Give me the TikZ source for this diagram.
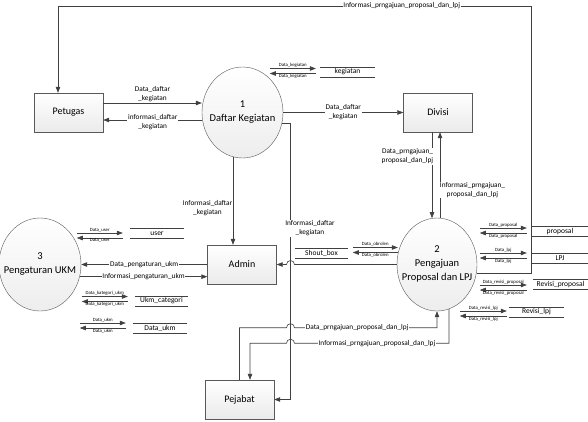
\documentclass[tikz,border=0pt]{standalone}
\usepackage{fontspec}
\setmainfont{Carlito}
\usetikzlibrary{shapes.geometric, arrows.meta, calc, positioning}

\tikzset{
  entity/.style={draw=gray!70!black, top color=white, bottom color=gray!16,
    minimum width=69, minimum height=39, font=\fontsize{10}{12}\selectfont},
  process/.style={ellipse, draw=gray!70!black, top color=white, bottom color=gray!14, inner sep=0},
  ptext/.style={align=center, font=\fontsize{10.5}{14}\selectfont},
  flow/.style={draw=black!75, line width=0.6pt, -{Triangle[length=6pt,width=4.5pt]}},
  sflow/.style={draw=black!75, line width=0.6pt, -{Triangle[length=6pt,width=4.5pt]}},
  lbl/.style={fill=white, inner sep=0.8pt, align=center, font=\fontsize{7.3}{9}\selectfont},
  slabel/.style={inner sep=0.3pt, font=\fontsize{4.8}{5}\selectfont},
  store/.style={minimum height=10, inner sep=0, font=\fontsize{7.5}{9}\selectfont},
  sline/.style={draw=black!75, line width=0.5pt},
}

% two flows between a process and a data store
\newcommand{\storepair}[5]{%
  \coordinate (#1-m) at ([shift={(#2)}]#1.west);
  \draw[sflow] ([xshift=-#3,yshift=2.5]#1-m) -- node[above=0.3pt, slabel]{#4} ([xshift=#3,yshift=2.5]#1-m);
  \draw[sflow] ([xshift=#3,yshift=-2.5]#1-m) -- node[below=0.3pt, slabel]{#5} ([xshift=-#3,yshift=-2.5]#1-m);
}

\begin{document}
\begin{tikzpicture}[x=1pt, y=-1pt]
\useasboundingbox (0,0) rectangle (588,421);

% entitas luar
\node[entity] (pt) at (68.5,112.5) {Petugas};
\node[entity] (dv) at (438,112.5) {Divisi};
\node[entity] (ad) at (242,264.5) {Admin};
\node[entity] (pj) at (239.5,399.5) {Pejabat};

% proses
\node[process, minimum width=81, minimum height=91] (c1) at (242.5,112.5) {};
\node[ptext] (t1) at (242.5,112) {1\\Daftar Kegiatan};
\node[process, minimum width=80, minimum height=93] (c2) at (437,264.5) {};
\node[ptext] (t2) at (437,264) {2\\Pengajuan\\Proposal dan LPJ};
\node[process, minimum width=82, minimum height=93] (c3) at (40,264.5) {};
\node[ptext] (t3) at (40,263.5) {3\\Pengaturan UKM};

% data store
\node[store, minimum width=55] (kg) at (347.5,72) {kegiatan};
\node[store, minimum width=53] (us) at (157,233.5) {user};
\node[store, minimum width=53] (uc) at (161.5,301) {Ukm\_categori};
\node[store, minimum width=54] (du) at (160,328) {Data\_ukm};
\node[store, minimum width=53] (sb) at (321.5,253) {Shout\_box};
\node[store, minimum width=56] (pr) at (560,231) {proposal};
\node[store, minimum width=56] (lp) at (560,258) {LPJ};
\node[store, minimum width=55] (rp) at (560.5,284) {Revisi\_proposal};
\node[store, minimum width=55] (rl) at (536.5,312) {Revisi\_lpj};
\foreach \s in {kg,us,uc,du,sb,pr,lp,rp,rl}
  \draw[sline] (\s.north west) -- (\s.north east) (\s.south west) -- (\s.south east);

\storepair{kg}{-27,-1}{23}{Data\_kegiatan}{Data\_kegiatan}
\storepair{us}{-30.5,2}{23}{Data\_user}{Data\_user}
\storepair{uc}{-30,-2}{23}{Data\_kategori\_ukm}{Data\_kategori\_ukm}
\storepair{du}{-30,-2.5}{23}{Data\_ukm}{Data\_ukm}
\storepair{sb}{80.5,-3}{22.5}{Data\_obrolen}{Data\_obrolen}
\storepair{pr}{-28.5,-0.5}{23.5}{Data\_proposal}{Data\_proposal}
\storepair{lp}{-28.5,-2.5}{23.5}{Data\_lpj}{Data\_lpj}
\storepair{rp}{-29.5,3.5}{23.5}{Data\_revisi\_proposal}{Data\_revisi\_proposal}
\storepair{rl}{-25.5,1.5}{23.5}{Data\_revisi\_lpj}{Data\_revisi\_lpj}

\coordinate (vx) at (290.5,0);
\coordinate (tr) at (531.5,6);

% aliran data
\draw[flow] ($(pt.east)+(0,-9.5)$) -- ($(pt.east -| c1.west)+(0,-9.5)$)
  node[lbl, midway, yshift=9]{Data\_daftar\\\_kegiatan};
\draw[flow] ($(c1.west)+(0.5,7.5)$) -- ($(pt.east)+(0,7.5)$)
  node[lbl, midway, yshift=-2]{informasi\_daftar\\\_kegiatan};
\draw[flow] (c1.east) -- (dv.west) node[lbl, midway]{Data\_daftar\\\_kegiatan};
\draw[flow] ($(c1.south)+(-9.5,-1)$) -- ($(ad.north)+(-9,0)$)
  node[lbl, midway, xshift=-25.5, yshift=-7]{Informasi\_daftar\\\_kegiatan};
\draw[flow] ($(c1.east)+(-1,10.5)$) -- ($(c1.east -| vx)+(0,10.5)$)
  |- node[lbl, pos=0.19, xshift=19.5]{Informasi\_daftar\\\_kegiatan} (pj.east);

\draw[flow] ($(dv.south)+(-6,0)$) -- ($(c2.north)+(-5,0.4)$)
  node[lbl, midway, xshift=-24.5, yshift=19]{Data\_prngajuan\_\\proposal\_dan\_lpj};
\draw[flow] ($(c2.north)+(3,0.1)$) -- ($(dv.south)+(2,0)$)
  node[lbl, midway, xshift=32.5, yshift=-15]{Informasi\_prngajuan\_\\proposal\_dan\_lpj};

\draw[flow] (c2.west) -- ($(vx |- c2.west)+(4,0)$)
  arc[start angle=0, end angle=-180, radius=4] -- (ad.east);

\draw[flow] ($(c2.east)+(-0.7,8.5)$) -| (tr)
  -| node[lbl, pos=0.137]{Informasi\_prngajuan\_proposal\_dan\_lpj} ($(pt.north)+(-10.5,0)$);

\draw[flow] (pj.north) |- ($(vx |- c2.south)+(-4,16.5)$)
  arc[start angle=180, end angle=360, radius=4]
  -| node[lbl, pos=0.22]{Data\_prngajuan\_proposal\_dan\_lpj} (c2.south);
\draw[flow] (c2.-75) |- node[lbl, pos=0.733]{Informasi\_prngajuan\_proposal\_dan\_lpj}
  ($(vx |- c2.south)+(4,32)$)
  arc[start angle=0, end angle=-180, radius=4] -| ($(pj.north)+(10.5,0)$);

\draw[flow] (ad.west) -- (c3.east) node[lbl, midway]{Data\_pengaturan\_ukm};
\draw[flow] (c3.-17) -- (c3.-17 -| ad.west) node[lbl, midway]{Informasi\_pengaturan\_ukm};

\end{tikzpicture}
\end{document}
